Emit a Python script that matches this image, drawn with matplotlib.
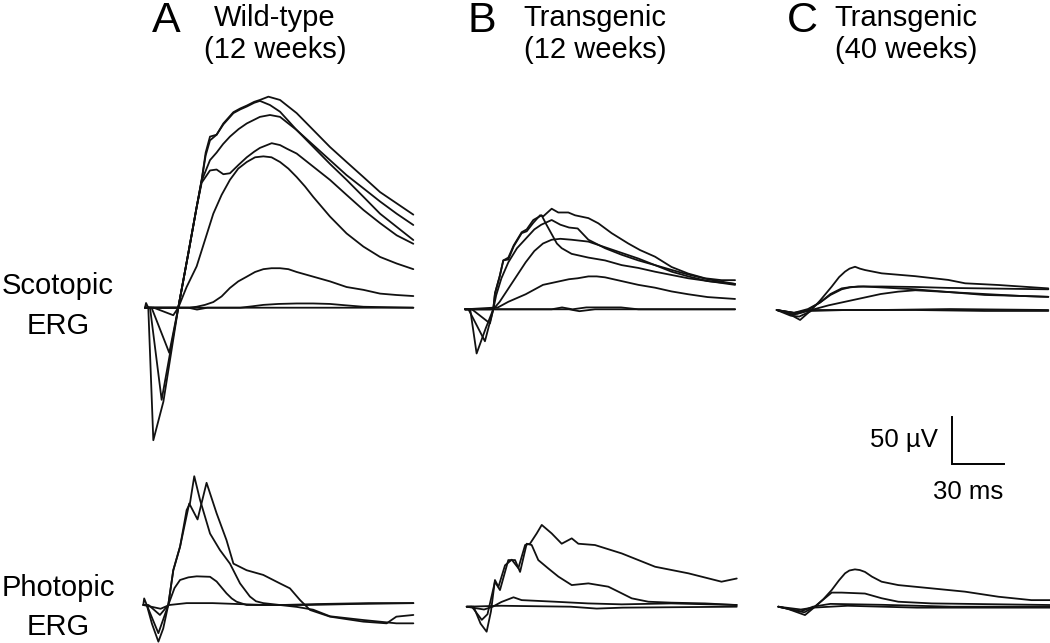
import matplotlib
matplotlib.use("Agg")
import matplotlib.pyplot as plt

# ---------------- data (time in ms, amplitude in µV) ----------------
# Panel A, wild-type 12 weeks, scotopic ERG
A_SCOT_1_T = [0, 0.6, 1.9, 4.8, 10.6, 19.2, 25, 29.8, 32.7, 35, 37.5, 41.3, 45.2, 51, 55, 58.7, 63, 66.3, 71.2, 77.9, 82, 87.5, 97.1, 106.7, 116.3, 126, 135.6, 145.2, 154.8]
A_SCOT_1_V = [0, 5, 0, -141, -100, 0, 58, 107, 136, 165, 182, 184, 196, 208, 212, 215, 219, 221, 224.5, 221, 215, 207, 189, 171, 155, 139, 123, 111, 99]
A_SCOT_2_T = [0, 2.9, 9.6, 19.2, 25, 29.8, 32.7, 35, 37.5, 41.3, 45.2, 51, 55, 58.7, 63, 66.3, 72.1, 77.9, 87.5, 97.1, 106.7, 116.3, 126, 135.6, 145.2, 154.8]
A_SCOT_2_V = [0, 0, -98, 0, 58, 107, 136, 162, 178, 184, 195, 207, 211, 214, 218, 220, 215.6, 208.5, 189, 173, 157, 141, 127, 113, 100, 88]
A_SCOT_3_T = [0, 3.8, 14, 19.2, 25, 29.8, 32.7, 37.5, 41.3, 45, 49, 54, 58.7, 66.3, 72.1, 77.9, 82, 87.5, 97.1, 106.7, 116.3, 126, 135.6, 145.2, 154.8]
A_SCOT_3_V = [0, 0, -48, 0, 58, 107, 135, 157, 165, 174, 182, 190, 196, 203, 205, 203, 197, 189, 171, 153, 136, 118, 100, 86, 72]
A_SCOT_4_T = [0, 5, 16.3, 19.2, 25, 29.8, 32.7, 37.5, 41.3, 45.2, 49, 54, 58.7, 63, 66.3, 73.1, 77.9, 82, 87.5, 97.1, 106.7, 116.3, 126, 135.6, 145.2, 154.8]
A_SCOT_4_V = [0, 0, -8, 0, 58, 107, 133, 146, 147, 142, 143, 152, 160, 166, 170, 175, 173, 169, 164, 150, 136, 120, 104, 90, 77, 68]
A_SCOT_5_T = [0, 19.2, 24, 29.8, 34.6, 39.4, 44.2, 49, 53.8, 58.7, 63.5, 68.3, 73, 77.9, 82.7, 87.5, 92.3, 97, 106.7, 116.3, 126, 135.6, 145.2, 154.8]
A_SCOT_5_V = [0, 0, 22, 44, 72, 100, 120, 136, 148, 155, 160, 161, 160, 155, 148, 139, 129, 118, 97, 79, 65, 54, 47, 41]
A_SCOT_6_T = [0, 25, 29.8, 34.6, 39.4, 44.2, 49, 53.8, 58.7, 63.5, 68.3, 73, 77.9, 82.7, 87.5, 97.1, 106.7, 116.3, 126, 135.6, 145.2, 154.8]
A_SCOT_6_V = [0, 0, 1, 3, 6, 12, 21, 28, 33, 38, 41, 42, 42, 41, 38, 33, 28, 22, 19, 15, 13.5, 12.4]
A_SCOT_7_T = [0, 55, 62, 68.3, 77, 87.5, 97, 106.7, 116, 126, 154.8]
A_SCOT_7_V = [0, 0, 1.5, 3, 4, 4.5, 4.5, 4, 2.5, 1, 0]
A_SCOT_8_T = [0, 25, 30, 36, 60, 154.8]
A_SCOT_8_V = [0, 0, -2, 0, 0, 0]

# Panel B, transgenic 12 weeks, scotopic ERG
B_SCOT_1_T = [0, 3, 6.7, 12, 16.3, 17.3, 20, 22.1, 25, 28.1, 32.7, 35.6, 39.4, 43.3, 45.2, 50, 53.8, 59.6, 63.5, 71.2, 76.9, 84.6, 94.2, 101, 109.6, 119.2, 128.8, 138.5, 148, 155.8]
B_SCOT_1_V = [0, 0, -47, -20, 0, 17, 35, 52, 53, 67, 81, 83, 92, 100, 99, 107, 103, 103, 100, 97, 91.5, 81, 70, 63, 56, 45, 38, 33, 31, 31]
B_SCOT_2_T = [0, 2, 11.5, 16.3, 17.3, 20, 22.1, 25, 28.1, 32.7, 35.6, 39.4, 44.2, 47, 50, 53, 55.8, 61.5, 71.2, 80.8, 90.4, 100, 109.6, 128.8, 155.8]
B_SCOT_2_V = [0, 0, -34, 0, 17, 35, 52, 55, 68, 82, 85, 95, 100, 90, 80, 70, 65, 59, 55, 52, 47, 44, 40, 33, 26]
B_SCOT_3_T = [0, 4, 14.4, 16.3, 18, 21, 25, 30, 35, 40, 44, 50, 55, 60, 65, 71.2, 80.8, 90.4, 100, 109.6, 119, 128.8, 140, 155.8]
B_SCOT_3_V = [0, 0, -15, 0, 15, 33, 50, 65, 75, 85, 90, 95, 90, 87, 86, 74, 65, 58, 52, 47, 42, 37, 32, 27]
B_SCOT_4_T = [0, 16.3, 20, 25, 30, 35, 40, 45, 50, 55, 61.5, 71.2, 80.8, 90.4, 100, 109.6, 119.2, 128.8, 140, 155.8]
B_SCOT_4_V = [0, 0, 8, 22, 36, 50, 62, 70, 74, 75, 74, 72, 66, 60, 54, 47, 40, 35, 30, 27]
B_SCOT_5_T = [0, 19, 25, 30, 35, 40, 45, 50, 55, 60, 65, 71.2, 76, 80.8, 90.4, 100, 109.6, 119.2, 128.8, 140, 155.8]
B_SCOT_5_V = [0, 2, 8, 12, 16, 21, 26, 28, 30, 32, 33, 35, 35, 34, 30, 26, 23, 19, 16, 13, 11]
B_SCOT_6_T = [0, 50, 56, 62, 70, 90, 100, 155.8]
B_SCOT_6_V = [0, 0, 2, 0, 2, 2, 0, 0]
B_SCOT_7_T = [0, 60, 66, 75, 155.8]
B_SCOT_7_V = [0, 0, -2, 0, 0]

# Panel C, transgenic 40 weeks, scotopic ERG
C_SCOT_1_T = [0, 5, 13.5, 20, 25, 31.7, 36, 39.4, 42, 45.2, 48, 51, 60.6, 79.8, 99, 108.7, 127.9, 156.7]
C_SCOT_1_V = [0, -2, -10.6, 0, 10, 24.8, 35, 40.8, 44, 46, 44, 42.5, 39, 36, 32, 28.4, 26.6, 23]
C_SCOT_2_T = [0, 10, 18, 25, 31, 37.5, 42, 47, 60.6, 79.8, 99, 118, 137.5, 156.7]
C_SCOT_2_V = [0, -5, 0, 8, 16, 22, 24, 25, 25, 24.5, 23.5, 23, 22.5, 22]
C_SCOT_3_T = [0, 12, 20, 30, 45, 60, 70, 80, 100, 120, 140, 156.7]
C_SCOT_3_V = [0, -4, 0, 5, 11, 17, 19.5, 21, 19, 17, 15, 14]
C_SCOT_4_T = [0, 10, 18, 25, 31, 37.5, 43, 50, 60.6, 80, 100, 120, 140, 156.7]
C_SCOT_4_V = [0, -3, 1, 8, 17, 23, 24.5, 25, 24, 22, 19, 16, 15, 14]
C_SCOT_5_T = [0, 8, 13, 20, 40, 80, 120, 156.7]
C_SCOT_5_V = [0, -6, -7, -1, 0, 0, -1, -1]
C_SCOT_6_T = [0, 10, 20, 60, 100, 156.7]
C_SCOT_6_V = [0, -3, 0, 0, 1, 0]

# Panel A, photopic ERG
A_PHOT_1_T = [0, 0.5, 2, 5, 8.7, 11.5, 14.4, 17.3, 21.2, 26.5, 31.3, 36.5, 42.3, 48, 52, 59.6, 69.2, 78.8, 84.6, 90.4, 96.2, 107.7, 126.9, 140.4, 146, 155.8]
A_PHOT_1_V = [0, 7, 0, -20, -39, -25, 0, 37, 62, 108, 91, 130, 97.5, 69, 44, 37, 32, 23, 17.7, 5.3, -5.3, -12.4, -17.7, -19.5, -12.4, -10.6]
A_PHOT_2_T = [0, 2, 8.7, 14.4, 17.3, 21.2, 25, 26.9, 29.4, 32.7, 38.5, 44.2, 50, 55.8, 61.5, 65, 69.2, 78.8, 88.5, 98, 107.7, 127, 146, 155.8]
A_PHOT_2_V = [0, 0, -30, 0, 37, 62, 101, 108, 137, 112, 76, 58.5, 44, 23, 9, 4, 2, 0, -2, -5, -12, -16, -19.5, -19.5]
A_PHOT_3_T = [0, 3, 9.6, 14.4, 18, 21.2, 26, 30.8, 38.5, 42.3, 45, 48, 51, 53.8, 59.6, 80, 100, 130, 155.8]
A_PHOT_3_V = [0, 0, -10.6, 0, 18, 26.6, 29.4, 30.5, 30, 25, 19, 12.4, 7, 3.5, 0, 0, 1, 2, 2]
A_PHOT_4_T = [0, 5, 10, 15, 25, 40, 55, 70, 95, 120, 155.8]
A_PHOT_4_V = [0, -2, -4, 0, 2, 2, 1, 0, 0, 1, 2]

# Panel B, photopic ERG
B_PHOT_1_T = [0, 4, 8, 11.5, 14, 16.3, 18.3, 22.1, 26, 29.8, 33.7, 36.5, 40.4, 43.3, 49, 54.8, 60.6, 64.4, 74, 89.4, 108.7, 127.9, 147, 155.8]
B_PHOT_1_V = [0, 0, -18, -26.6, -5, 28.4, 21, 44, 50, 41, 65.6, 67, 78, 87, 78, 67, 72.7, 67, 65.6, 56.7, 42.5, 35.5, 26.6, 30]
B_PHOT_2_T = [0, 3, 8.7, 12, 16.3, 19.2, 24, 27.9, 30.8, 34.6, 37.5, 41.3, 47, 52.9, 60.6, 70.2, 81.7, 87.5, 95.2, 104.8, 118, 137.5, 155.8]
B_PHOT_2_V = [0, 0, -14, -8, 26.6, 17.7, 49.6, 49.6, 37, 67, 65.6, 49.6, 40.8, 32, 23, 24.8, 21.3, 16, 8.9, 5.3, 4.3, 3.5, 1.8]
B_PHOT_3_T = [0, 10, 15, 20, 27, 31.7, 51, 70, 89.4, 118, 155.8]
B_PHOT_3_V = [0, -3, 0, 5, 10, 7, 5.3, 3.5, 2.5, 3.5, 1.8]
B_PHOT_4_T = [0, 20, 60, 75, 90, 155.8]
B_PHOT_4_V = [0, 1, 0, -2, -1, 0]

# Panel C, photopic ERG
C_PHOT_1_T = [0, 5, 15.4, 21.2, 26, 30.8, 35, 38.5, 41, 44.2, 47, 50, 54, 59.6, 69.2, 88.5, 107.7, 127, 146, 156.7]
C_PHOT_1_V = [0, -2, -8.9, 0, 8, 17.7, 28, 35.5, 38.5, 39.7, 39, 37, 32, 26.6, 23, 19.5, 16, 10.6, 7, 7]
C_PHOT_2_T = [0, 15, 21, 30.8, 36.5, 50, 59.6, 69.2, 88.5, 156.7]
C_PHOT_2_V = [0, -6, 0, 15, 15, 14, 9, 5.3, 3.5, 1.8]
C_PHOT_3_T = [0, 13, 20, 30, 60, 100, 156.7]
C_PHOT_3_V = [0, -5, 0, 3, 2, 0, 0]
C_PHOT_4_T = [0, 13, 20, 40, 80, 156.7]
C_PHOT_4_V = [0, -3, -1, 1, -1, -1]

SCALE_MS = 30
SCALE_UV = 50

HEAD_LETTERS = ["A", "B", "C"]
HEAD_LINE1 = ["Wild-type", "Transgenic", "Transgenic"]
HEAD_LINE2 = ["(12 weeks)", "(12 weeks)", "(40 weeks)"]
ROW_LABELS = [("Scotopic", "ERG"), ("Photopic", "ERG")]

# ---------------- layout ----------------
W, H, DPI = 1050, 643, 100
SX = 52 / 30.0    # px per ms
SY = 47 / 50.0    # px per µV
COLOR = "#111111"
LW = 1.3
FONT = "Liberation Sans"

fig = plt.figure(figsize=(W / DPI, H / DPI), dpi=DPI)
fig.patch.set_facecolor("white")


def panel_axes(x0_px, base_px, tmin, tmax, vmin, vmax):
    left_px = x0_px + tmin * SX
    width_px = (tmax - tmin) * SX
    top_px = base_px - vmax * SY
    bottom_px = base_px - vmin * SY
    ax = fig.add_axes([left_px / W, 1 - bottom_px / H, width_px / W,
                       (bottom_px - top_px) / H])
    ax.set_xlim(tmin, tmax)
    ax.set_ylim(vmin, vmax)
    ax.axis("off")
    ax.patch.set_alpha(0)
    return ax


panels = [
    (145.0, 307.7, -160, 240, [(A_SCOT_1_T, A_SCOT_1_V), (A_SCOT_2_T, A_SCOT_2_V), (A_SCOT_3_T, A_SCOT_3_V),
                               (A_SCOT_4_T, A_SCOT_4_V), (A_SCOT_5_T, A_SCOT_5_V), (A_SCOT_6_T, A_SCOT_6_V),
                               (A_SCOT_7_T, A_SCOT_7_V), (A_SCOT_8_T, A_SCOT_8_V)]),
    (465.0, 309.3, -160, 240, [(B_SCOT_1_T, B_SCOT_1_V), (B_SCOT_2_T, B_SCOT_2_V), (B_SCOT_3_T, B_SCOT_3_V),
                               (B_SCOT_4_T, B_SCOT_4_V), (B_SCOT_5_T, B_SCOT_5_V), (B_SCOT_6_T, B_SCOT_6_V),
                               (B_SCOT_7_T, B_SCOT_7_V)]),
    (776.7, 310.0, -160, 240, [(C_SCOT_1_T, C_SCOT_1_V), (C_SCOT_2_T, C_SCOT_2_V), (C_SCOT_3_T, C_SCOT_3_V),
                               (C_SCOT_4_T, C_SCOT_4_V), (C_SCOT_5_T, C_SCOT_5_V), (C_SCOT_6_T, C_SCOT_6_V)]),
    (143.3, 605.0, -60, 150, [(A_PHOT_1_T, A_PHOT_1_V), (A_PHOT_2_T, A_PHOT_2_V), (A_PHOT_3_T, A_PHOT_3_V),
                              (A_PHOT_4_T, A_PHOT_4_V)]),
    (466.7, 606.7, -60, 150, [(B_PHOT_1_T, B_PHOT_1_V), (B_PHOT_2_T, B_PHOT_2_V), (B_PHOT_3_T, B_PHOT_3_V),
                              (B_PHOT_4_T, B_PHOT_4_V)]),
    (778.3, 606.7, -60, 150, [(C_PHOT_1_T, C_PHOT_1_V), (C_PHOT_2_T, C_PHOT_2_V), (C_PHOT_3_T, C_PHOT_3_V),
                              (C_PHOT_4_T, C_PHOT_4_V)]),
]

for x0, base, vmin, vmax, traces in panels:
    ax = panel_axes(x0, base, -2, 160, vmin, vmax)
    for t, v in traces:
        ax.plot(t, v, color=COLOR, lw=LW, solid_joinstyle="round", solid_capstyle="round")

# scale bar (corner at px 952, 464)
sax = panel_axes(952.0, 464.0, -5, 40, -10, 60)
sax.plot([0, 0, SCALE_MS], [SCALE_UV, 0, 0], color="black", lw=1.4, solid_joinstyle="miter")


def ftext(x, y, s, size, **kw):
    fig.text(x / W, 1 - y / H, s, fontsize=size, family=FONT, ha="center", va="center",
             color="black", **kw)


ftext(904, 440, "50 µV", 18.5)
ftext(968, 492, "30 ms", 18.5)

head_x_letter = [166, 482, 802]
head_x_text = [275, 595, 906]
for i in range(3):
    ftext(head_x_letter[i], 21, HEAD_LETTERS[i], 31)
    ftext(head_x_text[i], 18, HEAD_LINE1[i], 21)
    ftext(head_x_text[i], 50, HEAD_LINE2[i], 21)

ftext(58, 286, ROW_LABELS[0][0], 21)
ftext(58, 326, ROW_LABELS[0][1], 21)
ftext(58, 588, ROW_LABELS[1][0], 21)
ftext(58, 627, ROW_LABELS[1][1], 21)

fig.savefig("out.png", dpi=DPI, facecolor="white")
